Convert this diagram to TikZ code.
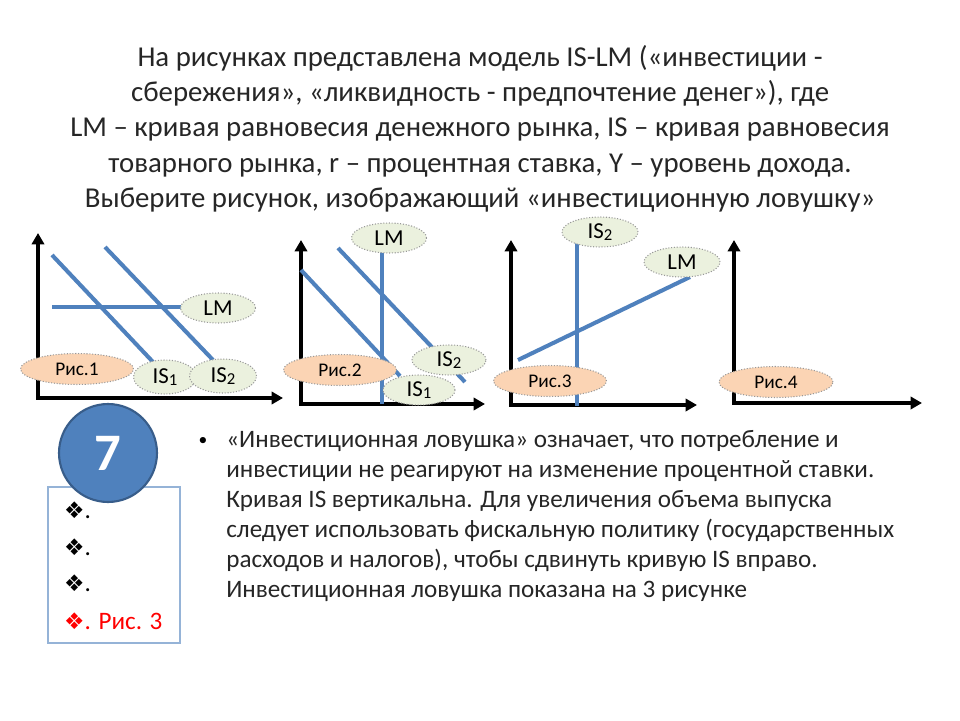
\documentclass[tikz,border=0pt]{standalone}
\usepackage{fontspec}
\setmainfont{Carlito}
\newfontfamily\symfont{DejaVu Sans}
\usetikzlibrary{arrows.meta,shapes.geometric}
\definecolor{lineblue}{RGB}{79,129,189}
\definecolor{ringblue}{RGB}{56,93,138}
\definecolor{taggreen}{RGB}{235,241,222}
\definecolor{figpeach}{RGB}{251,212,180}
\definecolor{boxblue}{RGB}{149,179,215}
\definecolor{textgray}{RGB}{38,38,38}
\tikzset{
	axis/.style={draw=black,line width=2.3pt,line join=miter,
		{Triangle[length=6.5pt,width=7pt]}-{Triangle[length=6.5pt,width=7pt]}},
	curve/.style={draw=lineblue,line width=2.3pt},
	tag/.style={ellipse,draw=black!40,densely dotted,line width=0.6pt,fill=taggreen,
		inner sep=0pt,minimum width=1.5cm,minimum height=0.6cm,
		font=\fontsize{13}{13}\selectfont},
	fig/.style={ellipse,draw=black!40,densely dotted,line width=0.6pt,fill=figpeach,
		inner sep=0pt,minimum width=2.26cm,minimum height=0.62cm,
		font=\fontsize{11}{11}\selectfont}
}
\newcommand{\sub}[1]{\raisebox{-0.15ex}{\fontsize{9.5}{9.5}\selectfont #1}}
\newcommand{\dia}{{\symfont\fontsize{13}{13}\selectfont ❖}}

\begin{document}
\begin{tikzpicture}[x=0.02cm,y=-0.02cm,
			item/.style={anchor=base west,font=\fontsize{14.3}{16}\selectfont}]
	\useasboundingbox[fill=white] (0,0) rectangle (960,720);
	% title
	\node[align=center,text=textgray,font=\fontsize{16.4}{20.1}\selectfont,anchor=north] (title) at (480,39)
		{На рисунках представлена модель IS-LM («инвестиции -\\
		сбережения», «ликвидность - предпочтение денег»), где\\
		LM – кривая равновесия денежного рынка, IS – кривая равновесия\\
		товарного рынка, r – процентная ставка, Y – уровень дохода.\\
		Выберите рисунок, изображающий «инвестиционную ловушку»};
	% axes of the four pictures
	\foreach \n/\ox/\oy/\tx/\ty in {1/38/398/283/233,2/301/404/485/240,
		3/511/405/697/240,4/734/403/922/240}{
		\coordinate (o\n) at (\ox,\oy);
		\coordinate (top\n) at (\ox,\ty);
		\coordinate (right\n) at (\tx,\oy);
		\draw[axis] (top\n) -- (o\n) -- (right\n);
	}
	% picture 1
	\coordinate (is1a) at (52,255);  \coordinate (is1b) at (153,362);
	\coordinate (is2a) at (105,247); \coordinate (is2b) at (213,360);
	\coordinate (lma) at (52,307);   \coordinate (lmb) at (190,307);
	\draw[curve] (is1a) -- (is1b);
	\draw[curve] (is2a) -- (is2b);
	\draw[curve] (lma) -- (lmb);
	\node[tag] (lm1) at (218,308) {LM};
	\node[fig] (fig1) at (77,369) {Рис.1};
	\node[tag,minimum width=1.26cm,minimum height=0.68cm] (isa1) at (165,377) {IS\sub{1}};
	\node[tag,minimum width=1.34cm,minimum height=0.68cm] (isb1) at (223,376) {IS\sub{2}};
	% picture 2
	\coordinate (lmc) at (382,250);  \coordinate (lmd) at (382,404);
	\coordinate (is3a) at (301,270); \coordinate (is3b) at (400,376);
	\coordinate (is4a) at (338,248); \coordinate (is4b) at (465,382);
	\draw[curve] (lmc) -- (lmd);
	\draw[curve] (is3a) -- (is3b);
	\draw[curve] (is4a) -- (is4b);
	\node[tag] (lm2) at (389,238) {LM};
	\node[fig] (fig2) at (340,370) {Рис.2};
	\node[tag,minimum width=1.48cm] (isb2) at (449,360) {IS\sub{2}};
	\node[tag,minimum width=1.44cm] (isa2) at (419,390) {IS\sub{1}};
	% picture 3
	\coordinate (is5a) at (577,243); \coordinate (is5b) at (577,406);
	\coordinate (lme) at (518,360);  \coordinate (lmf) at (690,277);
	\draw[curve] (is5a) -- (is5b);
	\draw[curve] (lme) -- (lmf);
	\node[tag,minimum width=1.52cm] (isb3) at (600,232) {IS\sub{2}};
	\node[tag,minimum width=1.52cm] (lm3) at (682,262) {LM};
	\node[fig] (fig3) at (550,381) {Рис.3};
	% picture 4
	\node[fig,minimum width=2.28cm] (fig4) at (776,382) {Рис.4};
	% answer box
	\draw[boxblue,line width=0.6pt] (48,487) rectangle (180,643);
	\node[circle,fill=lineblue,draw=ringblue,line width=1.2pt,minimum size=1.96cm,
		text=white,font=\fontsize{30}{30}\selectfont\bfseries] (num) at (108,453) {7};
	\node[item] (ans1) at (58,518) {\dia.};
	\node[item] (ans2) at (58,555) {\dia.};
	\node[item] (ans3) at (58,591) {\dia.};
	\node[item,text=red] (ans4) at (58,629) {\dia. Рис. 3};
	% explanation
	\node[anchor=center,font=\fontsize{10}{10}\selectfont] (dot) at (203,441) {•};
	\node[anchor=north west,align=left,text=textgray,inner sep=0pt,
		font=\fontsize{14.3}{17.1}\selectfont] (note) at (226,430)
		{«Инвестиционная ловушка» означает, что потребление и\\
		инвестиции не реагируют на изменение процентной ставки.\\
		Кривая IS вертикальна. Для увеличения объема выпуска\\
		следует использовать фискальную политику (государственных\\
		расходов и налогов), чтобы сдвинуть кривую IS вправо.\\
		Инвестиционная ловушка показана на 3 рисунке};
\end{tikzpicture}
\end{document}
